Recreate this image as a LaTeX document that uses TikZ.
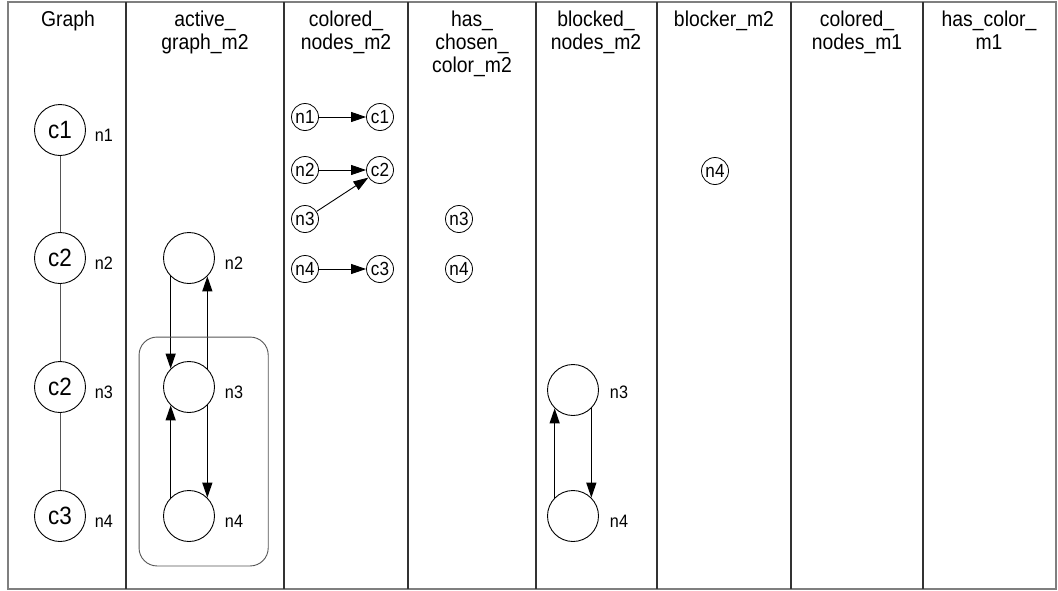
\documentclass[tikz,border=0pt]{standalone}
\usepackage{fontspec}
\setmainfont{Liberation Sans}[FakeStretch=0.9]
\usepackage{tikz}
\usetikzlibrary{positioning,fit,arrows.meta}
\definecolor{framegray}{HTML}{7f7f7f}
\definecolor{rulegray}{HTML}{333333}
\definecolor{edgegray}{HTML}{555555}

\tikzset{
  header/.style={anchor=north, align=center, inner sep=0pt, font=\fontsize{21.5}{23}\selectfont},
  bignode/.style={draw, circle, minimum size=51pt, inner sep=0pt, line width=0.9pt, font=\fontsize{25}{26}\selectfont},
  smallnode/.style={draw, circle, minimum size=27pt, inner sep=0pt, line width=0.8pt, font=\fontsize{19}{20}\selectfont},
  namelabel/.style={inner sep=1pt, font=\fontsize{18}{19}\selectfont},
  flow/.style={-{Triangle[length=15pt,width=10pt]}, line width=1.2pt},
  graphedge/.style={edgegray, line width=0.9pt},
}

\begin{document}
\begin{tikzpicture}[x=1pt, y=-1pt]
  \useasboundingbox (0,0) rectangle (1058,590);

  % Table frame and column rules
  \draw[framegray, line width=2pt] (8,2) rectangle (1056,589);
  \draw[rulegray, line width=1.6pt] (126,2) -- (126,589);
  \draw[rulegray, line width=1.6pt] (284,2) -- (284,589);
  \draw[rulegray, line width=1.6pt] (408,2) -- (408,589);
  \draw[rulegray, line width=1.6pt] (536,2) -- (536,589);
  \draw[rulegray, line width=1.6pt] (657,2) -- (657,589);
  \draw[rulegray, line width=1.6pt] (791,2) -- (791,589);
  \draw[rulegray, line width=1.6pt] (923,2) -- (923,589);

  % Column headers
  \node[header] (hgraph) at (68,11) {Graph};
  \node[header] (hactive) at (205,11) {active\_\\graph\_m2};
  \node[header] (hcolored) at (346,11) {colored\_\\nodes\_m2};
  \node[header] (hchosen) at (472,11) {has\_\\chosen\_\\color\_m2};
  \node[header] (hblocked) at (596,11) {blocked\_\\nodes\_m2};
  \node[header] (hblocker) at (724,11) {blocker\_m2};
  \node[header] (hcolm1) at (857,11) {colored\_\\nodes\_m1};
  \node[header] (hhasm1) at (989,11) {has\_color\_\\m1};

  % Graph
  \node[bignode] (g1) at (60,130) {c1};
  \node[bignode] (g2) at (60,258) {c2};
  \node[bignode] (g3) at (60,387) {c2};
  \node[bignode] (g4) at (60,516) {c3};
  \node[namelabel] (gl1) at (104,135) {n1};
  \node[namelabel] (gl2) at (104,263) {n2};
  \node[namelabel] (gl3) at (104,392) {n3};
  \node[namelabel] (gl4) at (104,521) {n4};
  \draw[graphedge] (g1) -- (g2);
  \draw[graphedge] (g2) -- (g3);
  \draw[graphedge] (g3) -- (g4);

  % active_graph_m2
  \node[bignode] (a2) at (189,258) {};
  \node[bignode] (a3) at (189,387) {};
  \node[bignode] (a4) at (189,516) {};
  \node[namelabel] (al2) at (234,263) {n2};
  \node[namelabel] (al3) at (234,392) {n3};
  \node[namelabel] (al4) at (234,521) {n4};
  \draw[flow] (a2.225) -- (a3.135);
  \draw[flow] (a3.45) -- (a2.315);
  \draw[flow] (a4.135) -- (a3.225);
  \draw[flow] (a3.315) -- (a4.45);
  \node[draw, edgegray, line width=0.9pt, rounded corners=18pt, inner sep=24pt,
        fit=(a3)(a4)(al3)(al4)] (loopbox) {};

  % colored_nodes_m2
  \node[smallnode] (cn1) at (305,117) {n1};
  \node[smallnode] (cn2) at (305,170) {n2};
  \node[smallnode] (cn3) at (305,219) {n3};
  \node[smallnode] (cn4) at (305,269) {n4};
  \node[smallnode] (cc1) at (380,117) {c1};
  \node[smallnode] (cc2) at (380,170) {c2};
  \node[smallnode] (cc3) at (380,269) {c3};
  \draw[flow, line width=0.9pt] (cn1) -- (cc1);
  \draw[flow, line width=0.9pt] (cn2) -- (cc2);
  \draw[flow, line width=0.9pt] (cn3) -- (cc2);
  \draw[flow, line width=0.9pt] (cn4) -- (cc3);

  % has_chosen_color_m2
  \node[smallnode] (hn3) at (459,219) {n3};
  \node[smallnode] (hn4) at (459,269) {n4};

  % blocked_nodes_m2
  \node[bignode] (k3) at (573,390) {};
  \node[bignode] (k4) at (573,516) {};
  \node[namelabel] (kl3) at (619,392) {n3};
  \node[namelabel] (kl4) at (619,521) {n4};
  \draw[flow] (k4.135) -- (k3.225);
  \draw[flow] (k3.315) -- (k4.45);

  % blocker_m2
  \node[smallnode] (bn4) at (715,171) {n4};
\end{tikzpicture}
\end{document}
